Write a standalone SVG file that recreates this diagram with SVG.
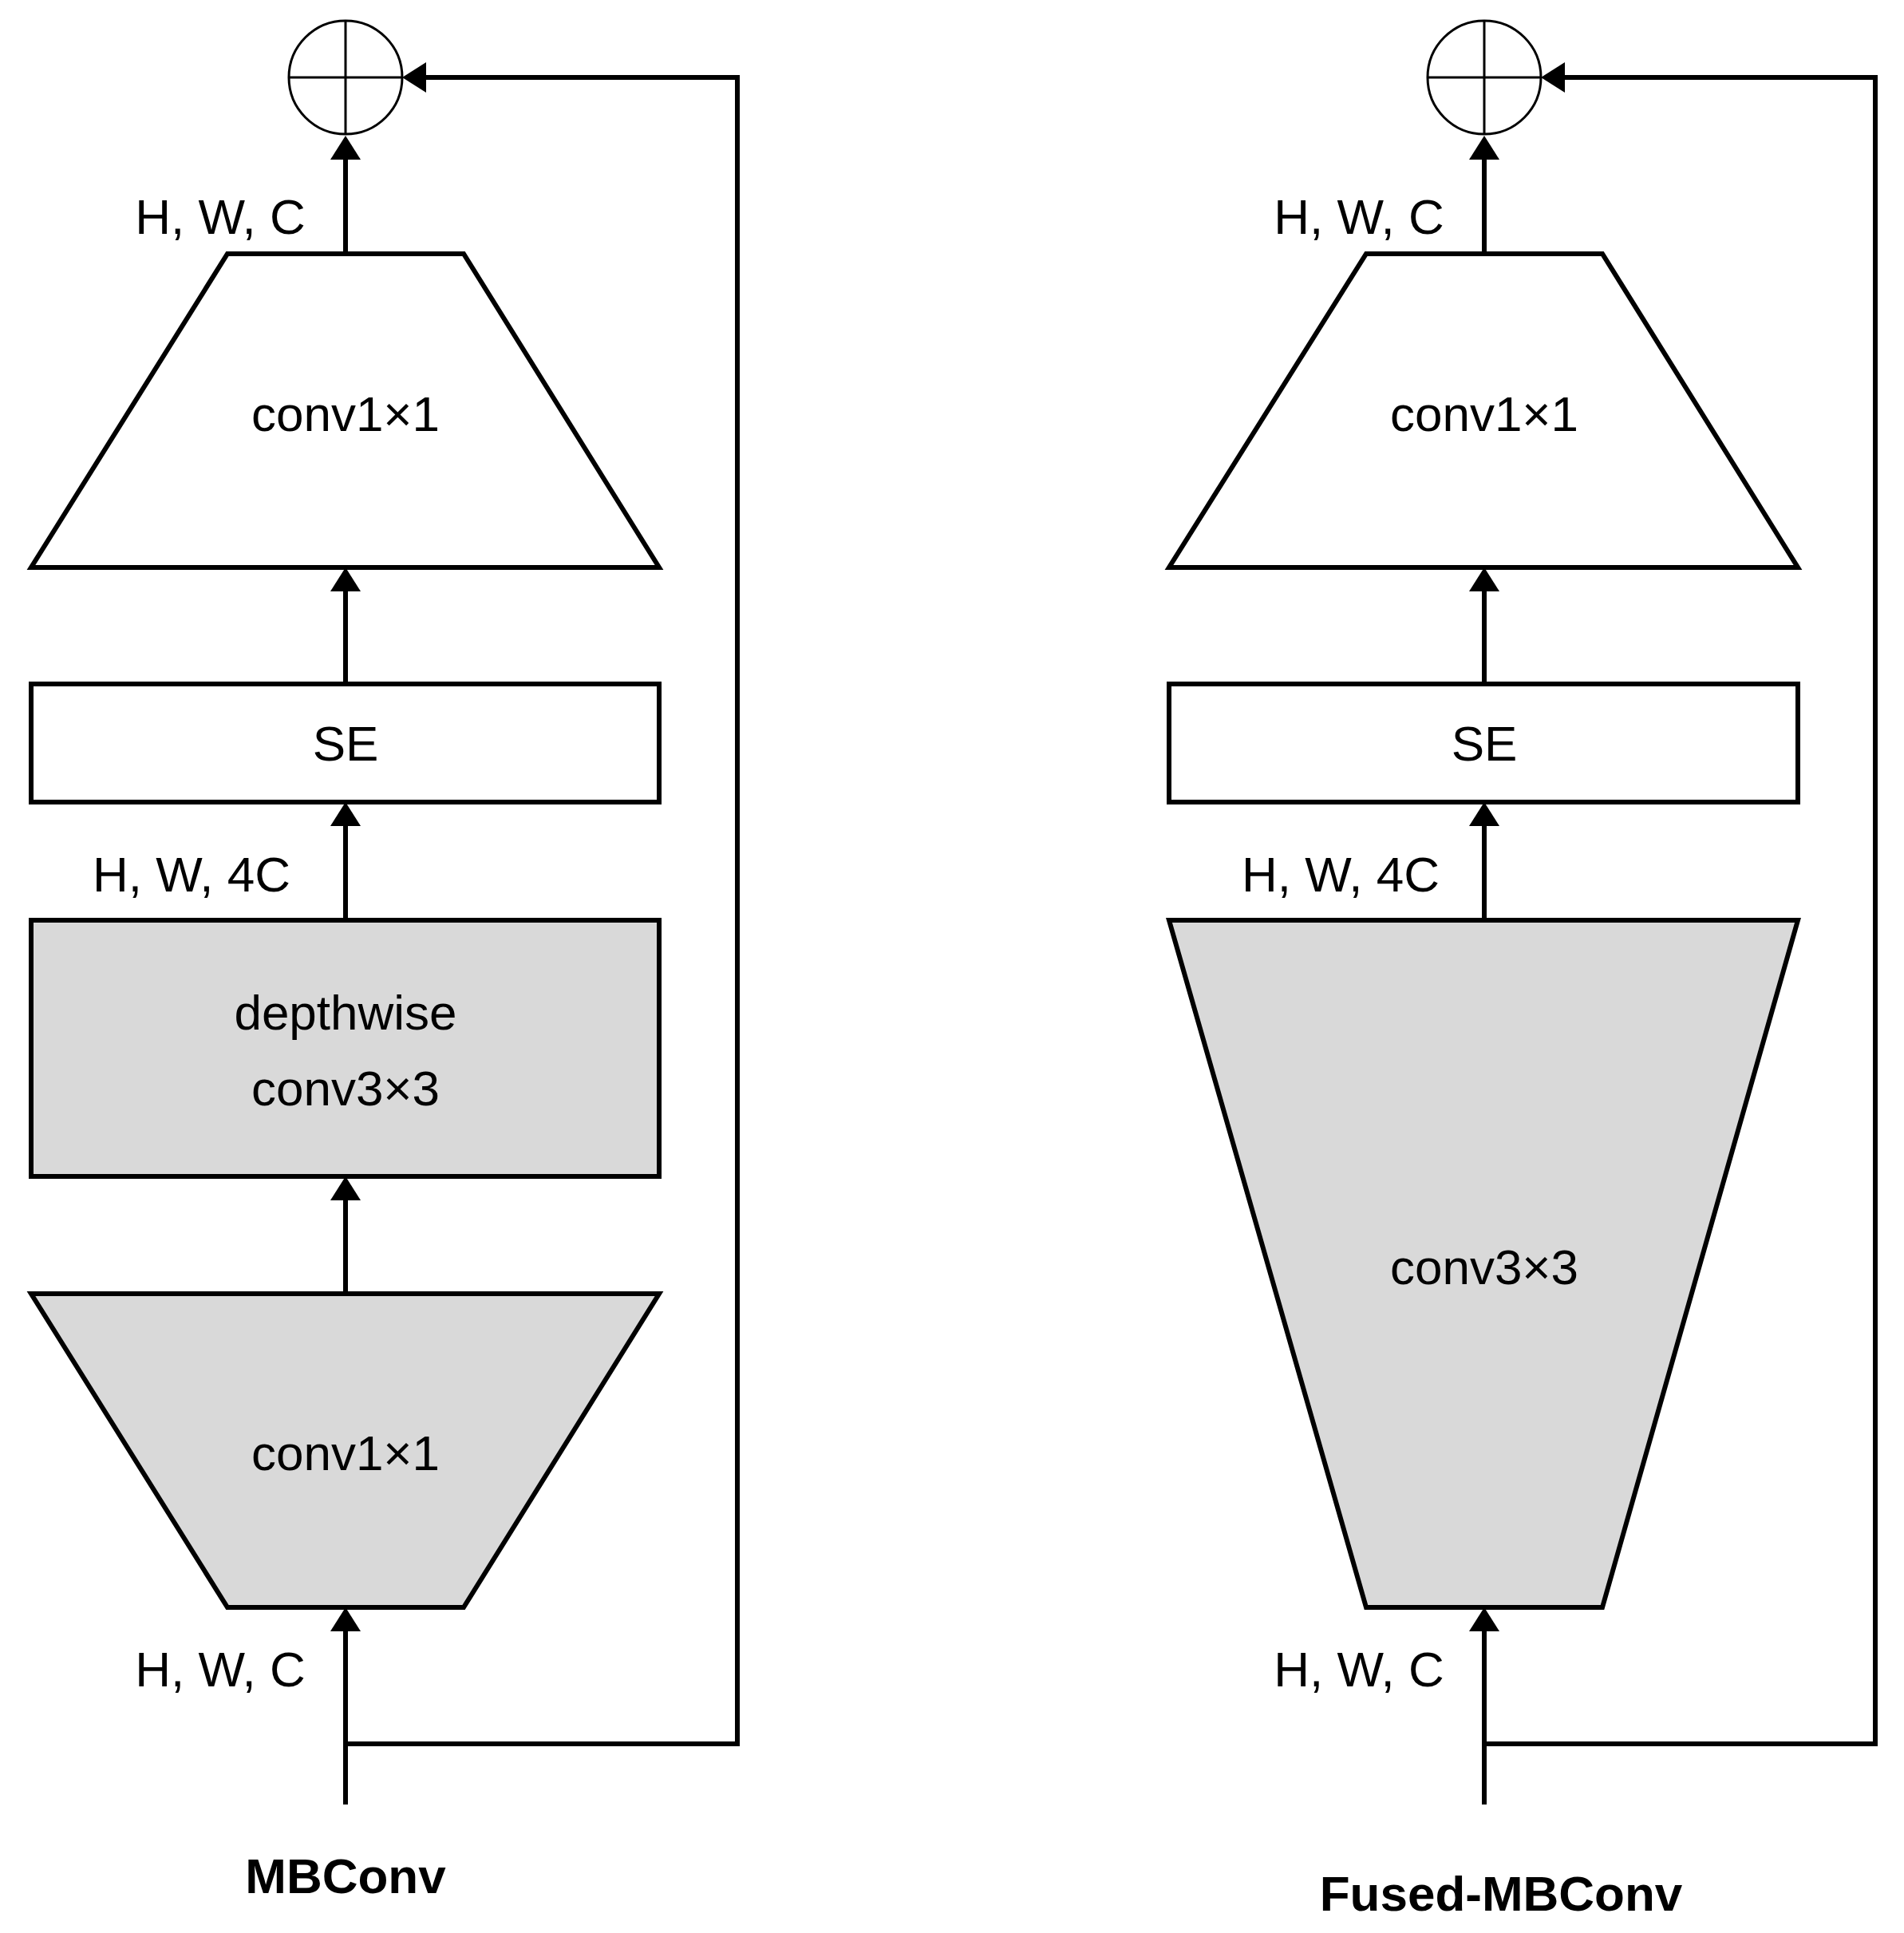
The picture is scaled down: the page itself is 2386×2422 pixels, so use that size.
<svg xmlns="http://www.w3.org/2000/svg" width="2386" height="2422" viewBox="0 0 2386 2422">
<style>
.s{fill:none;stroke:#000;stroke-width:6;stroke-linejoin:miter}
.w{fill:#fff;stroke:#000;stroke-width:6}
.g{fill:#d9d9d9;stroke:#000;stroke-width:6}
.t{font-family:"Liberation Sans",Arial,sans-serif;font-size:62px;fill:#000;text-anchor:middle}
.b{font-family:"Liberation Sans",Arial,sans-serif;font-size:62px;font-weight:bold;fill:#000;text-anchor:middle}
.c{fill:#fff;stroke:#000;stroke-width:3}
</style>
<defs>
<marker id="ah" markerUnits="userSpaceOnUse" markerWidth="30" markerHeight="38" refX="20" refY="19" orient="auto">
<path d="M0,0 L30,19 L0,38 z" fill="#000"/>
</marker>
</defs>
<rect width="2386" height="2422" fill="#fff"/>
<g id="connectors">
<line class="s" x1="433" y1="318" x2="433" y2="180" marker-end="url(#ah)"/>
<line class="s" x1="433" y1="857" x2="433" y2="721" marker-end="url(#ah)"/>
<line class="s" x1="433" y1="1153" x2="433" y2="1015" marker-end="url(#ah)"/>
<line class="s" x1="433" y1="1621" x2="433" y2="1484" marker-end="url(#ah)"/>
<line class="s" x1="433" y1="2261" x2="433" y2="2024" marker-end="url(#ah)"/>
<polyline class="s" points="433,2185 924,2185 924,97 514,97" marker-end="url(#ah)"/>
<line class="s" x1="1860" y1="318" x2="1860" y2="180" marker-end="url(#ah)"/>
<line class="s" x1="1860" y1="857" x2="1860" y2="721" marker-end="url(#ah)"/>
<line class="s" x1="1860" y1="1153" x2="1860" y2="1015" marker-end="url(#ah)"/>
<line class="s" x1="1860" y1="2261" x2="1860" y2="2024" marker-end="url(#ah)"/>
<polyline class="s" points="1860,2185 2350,2185 2350,97 1941,97" marker-end="url(#ah)"/>
</g>
<g id="add-left"><circle class="c" cx="433" cy="97" r="71"/><path class="c" d="M362,97H504M433,26V168"/></g>
<g id="conv1-top-left"><polygon class="w" points="285,318 581,318 826,711 39,711"/><text class="t" x="433" y="540">conv1×1</text></g>
<g id="se-left"><rect class="w" x="39" y="857" width="787" height="148"/><text class="t" x="433" y="953">SE</text></g>
<g id="dw-left"><rect class="g" x="39" y="1153" width="787" height="321"/><text class="t" x="433" y="1290">depthwise</text><text class="t" x="433" y="1385">conv3×3</text></g>
<g id="conv1-bot-left"><polygon class="g" points="39,1621 826,1621 581,2014 285,2014"/><text class="t" x="433" y="1842">conv1×1</text></g>
<g id="labels-left">
<text class="t" x="276" y="293">H, W, C</text>
<text class="t" x="240" y="1117">H, W, 4C</text>
<text class="t" x="276" y="2113">H, W, C</text>
<text class="b" x="433" y="2372">MBConv</text>
</g>
<g id="add-right"><circle class="c" cx="1860" cy="97" r="71"/><path class="c" d="M1789,97H1931M1860,26V168"/></g>
<g id="conv1-top-right"><polygon class="w" points="1712,318 2008,318 2253,711 1465,711"/><text class="t" x="1860" y="540">conv1×1</text></g>
<g id="se-right"><rect class="w" x="1465" y="857" width="788" height="148"/><text class="t" x="1860" y="953">SE</text></g>
<g id="conv3-right"><polygon class="g" points="1465,1153 2253,1153 2008,2014 1712,2014"/><text class="t" x="1860" y="1609">conv3×3</text></g>
<g id="labels-right">
<text class="t" x="1703" y="293">H, W, C</text>
<text class="t" x="1680" y="1117">H, W, 4C</text>
<text class="t" x="1703" y="2113">H, W, C</text>
<text class="b" x="1881" y="2394">Fused-MBConv</text>
</g>
</svg>
